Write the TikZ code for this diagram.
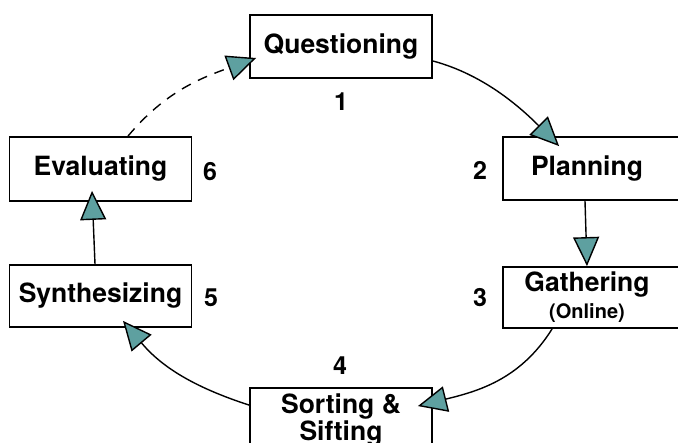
\documentclass[tikz,border=0pt]{standalone}
\usepackage{fontspec}
\setmainfont{TeX Gyre Heros}
\usetikzlibrary{arrows.meta}
\definecolor{tipteal}{RGB}{94,160,160}
\tikzset{
  box/.style={draw, line width=1.8pt, minimum width=182pt, inner sep=0pt, font=\fontsize{26.5}{25}\selectfont\bfseries},
  boxtext/.style={inner sep=0pt, font=\fontsize{26.5}{27}\selectfont\bfseries},
  num/.style={inner sep=0pt, font=\fontsize{25}{26}\selectfont\bfseries},
  flow/.style={line width=1.4pt, -{Triangle[length=29pt, width=26pt, fill=tipteal]}},
}

\begin{document}
\begin{tikzpicture}[x=1pt,y=1pt]
    \useasboundingbox (0,0) rectangle (678,443);
    \clip (0,0) rectangle (678,443);
    % the six steps
    \node[box, minimum height=63pt] (ques) at (341,396.5) {Questioning};
    \node[box, minimum width=190pt, minimum height=63pt, label={[boxtext,xshift=-11pt]center:Planning}] (plan) at (598,274.5) {};
    \node[box, minimum width=190pt, minimum height=61pt, label={[boxtext,xshift=-11pt,align=center]center:Gathering\\{\fontsize{20}{20}\selectfont(Online)}}] (gath) at (598,145.5) {};
    \node[box, minimum height=64pt, align=center] (sort) at (341,23) {Sorting \&\\Sifting};
    \node[box, minimum height=62pt] (synth) at (100.5,147) {Synthesizing};
    \node[box, minimum height=64pt] (eval) at (100.5,274) {Evaluating};
    % step numbers
    \node[num] (n1) at (341,341) {1};
    \node[num] (n2) at (480,273) {2};
    \node[num] (n3) at (480,145) {3};
    \node[num] (n4) at (340,77) {4};
    \node[num] (n5) at (211,145) {5};
    \node[num] (n6) at (210,271) {6};
    % the cycle
    \draw[flow] ([yshift=-14.5pt]ques.east) to[out=-15, in=135, looseness=0.9] ([shift={(57pt,-10pt)}]plan.north west);
    \draw[flow] ([xshift=-13pt]plan.south) -- ([xshift=-11pt]gath.north);
    \draw[flow] ([xshift=50pt]gath.south west) to[out=-122, in=14] ([shift={(-15pt,-19pt)}]sort.north east);
    \draw[flow] ([yshift=-18pt]sort.north west) to[out=162, in=-50] ([shift={(22.5pt,7pt)}]synth.south);
    \draw[flow] ([xshift=-5.5pt]synth.north) -- ([shift={(-8.5pt,11pt)}]eval.south);
    \draw[flow, dash pattern=on 10pt off 8pt] ([xshift=27.5pt]eval.north) to[out=50, in=-160] ([shift={(7pt,-11.5pt)}]ques.west);
\end{tikzpicture}
\end{document}
